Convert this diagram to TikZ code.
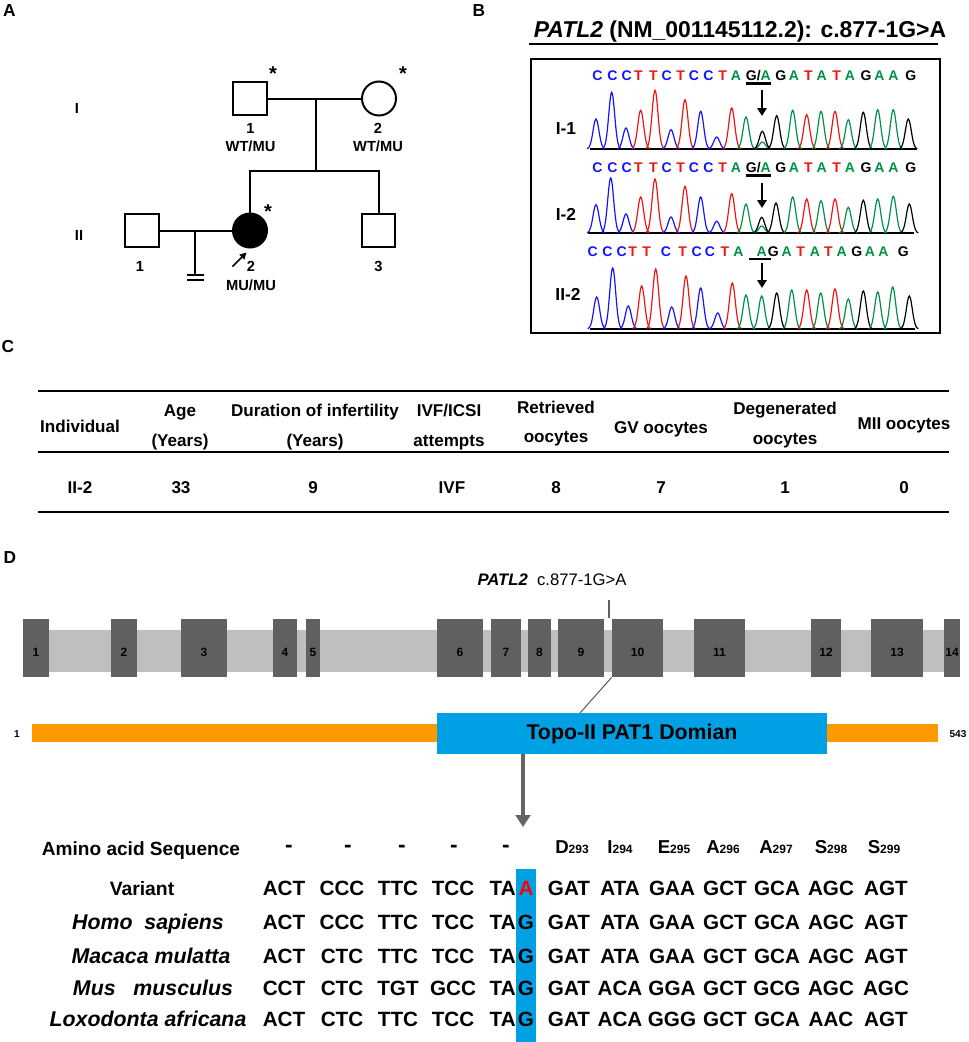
\documentclass[tikz,border=0pt]{standalone}
\usepackage{fontspec}
\setmainfont{Liberation Sans}
\usetikzlibrary{arrows.meta,calc}

\definecolor{exongray}{RGB}{96,96,96}
\definecolor{introngray}{RGB}{191,191,191}
\definecolor{domblue}{RGB}{0,160,228}
\definecolor{protorange}{RGB}{255,153,0}
\definecolor{arrowgray}{RGB}{100,100,100}
\definecolor{cb}{RGB}{20,20,255}
\definecolor{cr}{RGB}{240,20,20}
\definecolor{cg}{RGB}{0,145,70}
\definecolor{ck}{RGB}{0,0,0}

\newcommand{\fsz}[1]{\fontsize{#1}{#1}\selectfont}

% one chromatogram: baseline y, list of x/height/colour
\newcommand{\chromtrace}[2]{%
  \foreach \px/\ph/\pc in {#2}{%
    \draw[peak,\pc] plot[domain=-9:9,samples=19,smooth]
      ({\px+\x},{#1-\ph*exp(-((\x)*(\x))/17.64)});
  }}

% one row of codons: baseline y, row id, eleven codons, spliced base
\newcommand{\codonrow}[4]{%
  \foreach \ct [count=\i] in {#3}{%
    \pgfmathsetmacro{\cx}{{284,342,398,453,569,620,672,725,777,831,886}[\i-1]}
    \node[codon] (#2c\i) at (\cx,#1) {\ct};
  }
  \node[codon, anchor=base east] (#2ta) at (516,#1) {TA};
  \node[codon] (#2m) at (526,#1) {#4};
}

\begin{document}
\begin{tikzpicture}[x=0.75pt,y=-0.75pt,
  every node/.style={inner sep=0pt, font=\bfseries},
  panel/.style={font=\bfseries\fsz{13}},
  pedline/.style={line width=1.5pt},
  male/.style={draw, line width=1.5pt, rectangle, minimum size=25pt},
  female/.style={draw, line width=1.5pt, circle, minimum size=25.5pt},
  affected/.style={female, fill=black},
  plabel/.style={font=\bfseries\fsz{11}},
  asterisk/.style={font=\bfseries\fsz{15}},
  seqlet/.style={font=\bfseries\fsz{10.5}, text height=7.5pt, text depth=0pt},
  samp/.style={font=\bfseries\fsz{13}},
  peak/.style={line width=0.9pt},
  seqarrow/.style={line width=1.5pt, -{Triangle[length=6pt,width=7pt]}},
  tline/.style={line width=2.2pt},
  thead/.style={font=\bfseries\fsz{12.8}, anchor=base},
  exon/.style={fill=exongray, rectangle, minimum height=43.5pt},
  exnum/.style={font=\bfseries\fsz{9}},
  codon/.style={font=\bfseries\fsz{15.5}, anchor=base},
  species/.style={font=\bfseries\itshape\fsz{16}, anchor=base},
  ]

  \useasboundingbox (0,0) rectangle (969,1042);

  % Panel letters
  \node[panel] (pA) at (9.5,11) {A};
  \node[panel] (pB) at (479,11) {B};
  \node[panel] (pC) at (8,347) {C};
  \node[panel] (pD) at (10,558) {D};

  % Pedigree, generation I
  \node[plabel] (gI) at (77,108) {I};
  \node[male] (I1) at (250,98.5) {};
  \node[female] (I2) at (379,98.5) {};
  \draw[pedline] (I1) -- (I2);
  \coordinate (mI) at (316,98.5);
  \coordinate (sib) at (316,171);
  \draw[pedline] (mI) -- (sib);
  \node[plabel] (I1n) at (250.5,128.5) {1};
  \node[plabel] (I1g) at (250.5,146.5) {WT/MU};
  \node[plabel] (I2n) at (378,128.5) {2};
  \node[plabel] (I2g) at (378,146.5) {WT/MU};
  \node[asterisk] (I1s) at (273,74) {*};
  \node[asterisk] (I2s) at (403,74) {*};

  % Pedigree, generation II
  \node[plabel] (gII) at (79,235) {II};
  \node[male] (II1) at (142,230.5) {};
  \node[affected] (II2) at (250,230.5) {};
  \node[male] (II3) at (378.5,230.5) {};
  \draw[pedline] (II2) -- (II2 |- sib) -- (II3 |- sib) -- (II3);
  \draw[pedline] (II1) -- (II2);
  \coordinate (mII) at (195,230.5);
  \coordinate (nokid) at (195,275);
  \draw[pedline] (mII) -- (nokid);
  \draw[pedline] ($(nokid)+(-8.5,0)$) -- ($(nokid)+(8.5,0)$);
  \draw[pedline] ($(nokid)+(-8.5,4.5)$) -- ($(nokid)+(8.5,4.5)$);
  \node[plabel] (II1n) at (140,266.5) {1};
  \node[plabel] (II2n) at (251,266.5) {2};
  \node[plabel] (II2g) at (251,285) {MU/MU};
  \node[plabel] (II3n) at (378.5,266.5) {3};
  \node[asterisk] (II2s) at (268,212) {*};
  \coordinate (pbS) at (232.5,266.5);
  \coordinate (pbE) at (246.5,252.5);
  \draw[line width=1.3pt, -{Triangle[length=5pt,width=5pt]}] (pbS) -- (pbE);

  % Sanger traces
  \node[font=\bfseries\fsz{17.2}, anchor=base] (btitle) at (740,37)
    {\textit{PATL2} (NM\_001145112.2): c.877-1G>A};
  \draw[line width=1.9pt] (529,44) -- (938,44);
  \draw[line width=1.5pt] (531,59) rectangle (940,333);

  \foreach \ry [count=\r] in {75,167}{
    \foreach \lx/\lt/\lc [count=\i] in {597.3/C/cb, 612.3/C/cb, 626.7/C/cb, 638.3/T/cr,
        653.3/T/cr, 666.7/C/cb, 680.7/T/cr, 694/C/cb, 708.3/C/cb, 722.7/T/cr, 736/A/cg,
        780.7/G/ck, 794/A/cg, 808.3/T/cr, 821.7/A/cg, 836.7/T/cr, 850/A/cg, 866/G/ck,
        879.3/A/cg, 893.3/A/cg, 910.7/G/ck}
      \node[seqlet, text=\lc] (s\r-\i) at (\lx,\ry) {\lt};
    \node[seqlet] (ga\r) at (758.3,\ry) {G/\textcolor{cg}{A}};
    \draw[line width=1.8pt] ([yshift=-2.5pt]ga\r.south west) -- ([yshift=-2.5pt]ga\r.south east);
  }
  \foreach \lx/\lt/\lc [count=\i] in {592.7/C/cb, 607.3/C/cb, 621.7/C/cb, 632.7/T/cr,
      646.7/T/cr, 666/C/cb, 682.7/T/cr, 696.7/C/cb, 710/C/cb, 725/T/cr, 738.3/A/cg,
      773.3/G/ck, 786.7/A/cg, 800.7/T/cr, 815/A/cg, 828.3/T/cr, 841.7/A/cg, 856.7/G/ck,
      870/A/cg, 883.3/A/cg, 903.3/G/ck}
    \node[seqlet, text=\lc] (s3-\i) at (\lx,251) {\lt};
  \node[seqlet, text=cg] (ga3) at (761.7,251) {A};
  \coordinate (ul3a) at (749,259);
  \coordinate (ul3b) at (771,259);
  \draw[line width=1.8pt] (ul3a) -- (ul3b);

  \foreach \ay/\by [count=\k] in {90/116, 183/208, 263/288}{
    \coordinate (arS\k) at (762,\ay);
    \coordinate (arE\k) at (762,\by);
    \draw[seqarrow] (arS\k) -- (arE\k);
  }

  \node[samp] (lI1) at (566,129) {I-1};
  \node[samp] (lI2) at (566,214) {I-2};
  \node[samp] (lII2) at (568,294) {II-2};

  \draw[line width=1pt] (590,149) -- (917,149);
  \draw[line width=1pt] (588,233) -- (914,233);
  \draw[line width=1pt] (590,329) -- (915,329);
  \chromtrace{149}{596/30/cb, 611.7/56.7/cb, 626/21/cb, 640.7/38.7/cr, 655/58.7/cr,
    671/19.3/cb, 685/49.3/cr, 700.7/37.7/cb, 716.7/12/cb, 731.7/41/cr, 746/32/cg,
    762.3/7/cg, 762.3/17.7/ck, 776.7/33.3/ck, 792.7/38.7/cg, 806.7/34.3/cr, 821/37.7/cg,
    835/37.7/cr, 848.3/29.3/cg, 863.3/36.7/ck, 877.7/39.3/cg, 893.3/39.3/cg, 908.3/30/ck}
  \chromtrace{233}{596/28.3/cb, 610.7/55/cb, 626/19/cb, 640.7/36/cr, 655/54/cr,
    671/16/cb, 685/46.7/cr, 700.7/36/cb, 716.7/11.7/cb, 731.7/39.3/cr, 746/29/cg,
    761.7/7/cg, 761.7/15.7/ck, 776/30/ck, 792.7/36/cg, 806.7/34/cr, 821/32.3/cg,
    835/34/cr, 848.3/25.7/cg, 863.3/32.7/ck, 877.7/34/cg, 893.3/36.7/cg, 909.3/29/ck}
  \chromtrace{329}{596.7/32/cb, 612.7/61/cb, 628.3/23/cb, 641.7/43/cr, 655.7/60/cr,
    671.7/22/cb, 686/53/cr, 700.7/41/cb, 717.7/16/cb, 732.3/46/cr, 746/34/cg,
    761.7/33/cg, 776.7/36/ck, 791.7/39/cg, 806.7/39/cr, 820.7/36/cg, 835/40/cr,
    848.3/30/cg, 863.3/38/ck, 877.7/37/cg, 892.7/42/cg, 909.3/33/ck}

  % Clinical table
  \draw[tline] (38,391) -- (949,391);
  \draw[tline] (38,452) -- (949,452);
  \draw[tline] (38,512) -- (949,512);
  \node[thead] (hInd) at (80,432) {Individual};
  \node[thead] (hAge) at (180,416) {Age};
  \node[thead] (hAgeU) at (180,446) {(Years)};
  \node[thead] (hDur) at (315,416) {Duration of infertility};
  \node[thead] (hDurU) at (315,446) {(Years)};
  \node[thead] (hIvf) at (449,416) {IVF/ICSI};
  \node[thead] (hIvfU) at (449,446) {attempts};
  \node[thead] (hRet) at (556,413) {Retrieved};
  \node[thead] (hRetU) at (556,442) {oocytes};
  \node[thead] (hGv) at (661,433) {GV oocytes};
  \node[thead] (hDeg) at (785,414) {Degenerated};
  \node[thead] (hDegU) at (785,444) {oocytes};
  \node[thead] (hMii) at (904,429) {MII oocytes};
  \foreach \dx/\dt [count=\i] in {80/II-2, 181/33, 313/9, 452/IVF, 556/8, 661/7, 785/1, 904/0}
    \node[thead] (d\i) at (\dx,493) {\dt};

  % Gene structure
  \node[font=\fsz{12.5}, anchor=base] (mutlbl) at (552,585) {\textbf{\textit{PATL2}}\ \ c.877-1G>A};
  \fill[introngray] (23,630) rectangle (946,672);
  \foreach \ea/\eb [count=\n] in {23/49, 111/137, 181/227, 273/297, 306/320, 437/483,
      491/521, 528/551, 558/604, 612/663, 694/745, 811/841, 871/923, 944/960}
    \node[exon, minimum width={(\eb-\ea)*0.75pt},
      label={[exnum, yshift=-3.5pt]center:\n}] (e\n) at ({(\ea+\eb)/2},648) {};
  \coordinate (mutTop) at (609,600);
  \coordinate (mutBot) at (609,618);
  \draw[exongray, line width=0.8pt] (mutTop) -- (mutBot);

  % Protein
  \node[fill=protorange, minimum width=679.5pt, minimum height=13.5pt] (prot) at (485,733) {};
  \node[fill=domblue, minimum width=292.5pt, minimum height=30.75pt, font=\bfseries\fsz{16}]
    (dom) at (632,733.5) {Topo-II PAT1 Domian};
  \node[font=\bfseries\fsz{7.5}] (pS) at (17,734) {1};
  \node[font=\bfseries\fsz{7.5}] (pE) at (958,734) {543};
  \coordinate (domTop) at (580,713);
  \draw[exongray, line width=0.8pt] (e10.south west) -- (domTop);
  \coordinate (aaTip) at (523,827);
  \draw[arrowgray, line width=2.4pt, -{Triangle[length=9pt,width=11pt]}] (dom.south -| aaTip) -- (aaTip);

  % Alignment
  \fill[domblue] (516,869) rectangle (536,1042);
  \node[font=\bfseries\fsz{14.3}, anchor=base] (aaLbl) at (141,855) {Amino acid Sequence};
  \foreach \dx [count=\i] in {289,348,402,454,506}
    \node[font=\bfseries\fsz{17}, anchor=base] (dash\i) at (\dx,852) {-};
  \foreach \rx/\rl/\rn [count=\i] in {572/D/293, 620/I/294, 674/E/295, 723/A/296,
      776/A/297, 831/S/298, 884/S/299}
    \node[font=\bfseries\fsz{14}, anchor=base] (res\i) at (\rx,853) {\rl{\fsz{9}\rn}};

  \node[font=\bfseries\fsz{14.5}, anchor=base] (spVar) at (142,895) {Variant};
  \node[species] (spHomo) at (148,929) {Homo\ \ sapiens};
  \node[species] (spMac) at (151,963) {Macaca mulatta};
  \node[species] (spMus) at (153,995) {Mus\ \ \ musculus};
  \node[species] (spLox) at (148,1026) {Loxodonta africana};

  \codonrow{895}{var}{ACT,CCC,TTC,TCC,GAT,ATA,GAA,GCT,GCA,AGC,AGT}{\textcolor{red}{A}}
  \codonrow{929}{hom}{ACT,CCC,TTC,TCC,GAT,ATA,GAA,GCT,GCA,AGC,AGT}{G}
  \codonrow{963}{mac}{ACT,CTC,TTC,TCC,GAT,ATA,GAA,GCT,GCA,AGC,AGT}{G}
  \codonrow{995}{mus}{CCT,CTC,TGT,GCC,GAT,ACA,GGA,GCT,GCG,AGC,AGC}{G}
  \codonrow{1026}{lox}{ACT,CTC,TTC,TCC,GAT,ACA,GGG,GCT,GCA,AAC,AGT}{G}

\end{tikzpicture}
\end{document}
